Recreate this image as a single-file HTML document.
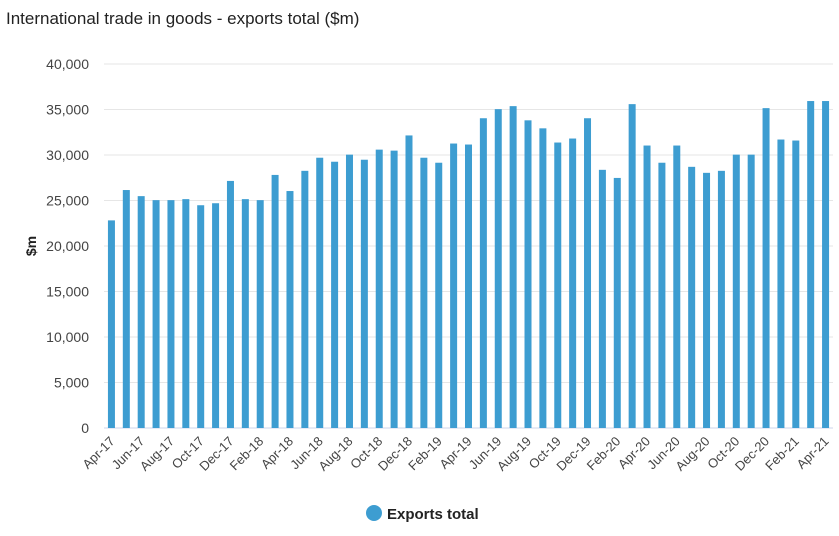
<!DOCTYPE html>
<html><head><meta charset="utf-8"><style>
body{margin:0;background:#fff;font-family:"Liberation Sans",sans-serif}
</style></head><body>
<svg id="chart" width="839" height="536" style="display:block">
<text x="6" y="24" font-size="17" fill="#222">International trade in goods - exports total ($m)</text>
<text transform="translate(36,246) rotate(-90)" font-size="14" font-weight="bold" fill="#222" text-anchor="middle">$m</text>
<g id="grid"></g><g id="bars"></g><g id="xlabels"></g>
<g>
<circle cx="374" cy="513" r="8" fill="#3d9dd1"/>
<text x="387" y="519" font-size="15" font-weight="bold" fill="#222">Exports total</text>
</g>
</svg>
<script>
const months=["Apr-17","May-17","Jun-17","Jul-17","Aug-17","Sep-17","Oct-17","Nov-17","Dec-17","Jan-18","Feb-18","Mar-18","Apr-18","May-18","Jun-18","Jul-18","Aug-18","Sep-18","Oct-18","Nov-18","Dec-18","Jan-19","Feb-19","Mar-19","Apr-19","May-19","Jun-19","Jul-19","Aug-19","Sep-19","Oct-19","Nov-19","Dec-19","Jan-20","Feb-20","Mar-20","Apr-20","May-20","Jun-20","Jul-20","Aug-20","Sep-20","Oct-20","Nov-20","Dec-20","Jan-21","Feb-21","Mar-21","Apr-21"];
const exportsTotal=[22815,26150,25480,25040,25040,25150,24480,24700,27150,25150,25040,27810,26040,28260,29700,29260,30040,29480,30590,30480,32150,29700,29150,31260,31150,34040,35040,35370,33810,32930,31370,31810,34040,28370,27480,35590,31040,29150,31040,28700,28040,28260,30040,30040,35150,31700,31590,35930,35930];
const yTicks=[0,5000,10000,15000,20000,25000,30000,35000,40000];
const ns="http://www.w3.org/2000/svg";
const x0=104,x1=833,y0=428,y1=64,yMax=40000;
const band=(x1-x0)/months.length;
const yS=v=>y0-(v/yMax)*(y0-y1);
const xS=i=>x0+band*(i+0.5);
const g=document.getElementById('grid'),b=document.getElementById('bars'),xl=document.getElementById('xlabels');
yTicks.forEach(t=>{
 const l=document.createElementNS(ns,'line');
 l.setAttribute('x1',x0);l.setAttribute('x2',x1);l.setAttribute('y1',yS(t));l.setAttribute('y2',yS(t));
 l.setAttribute('stroke',t===0?'#ccd6eb':'#e6e6e6');
 
 
 g.appendChild(l);
 const tx=document.createElementNS(ns,'text');
 tx.setAttribute('x',89);tx.setAttribute('y',yS(t)+5);tx.setAttribute('text-anchor','end');
 tx.setAttribute('font-size','14');tx.setAttribute('fill','#444');
 tx.textContent=t.toLocaleString('en-US');
 
 
 g.appendChild(tx);
});
exportsTotal.forEach((v,i)=>{
 const r=document.createElementNS(ns,'rect');
 r.setAttribute('x',xS(i)-3.5);r.setAttribute('width',7);
 r.setAttribute('y',yS(v));r.setAttribute('height',y0-yS(v));
 r.setAttribute('fill','#3d9dd1');
 
 
 b.appendChild(r);
});
months.forEach((m,i)=>{
 if(i%2)return;
 const t=document.createElementNS(ns,'text');
 const x=xS(i)+4,y=y0+14;
 t.setAttribute('x',x);t.setAttribute('y',y);
 t.setAttribute('transform','rotate(-45 '+x+' '+y+')');
 t.setAttribute('text-anchor','end');t.setAttribute('font-size','13');t.setAttribute('fill','#444');
 t.textContent=m;
 
 
 xl.appendChild(t);
});
</script>
</body></html>
